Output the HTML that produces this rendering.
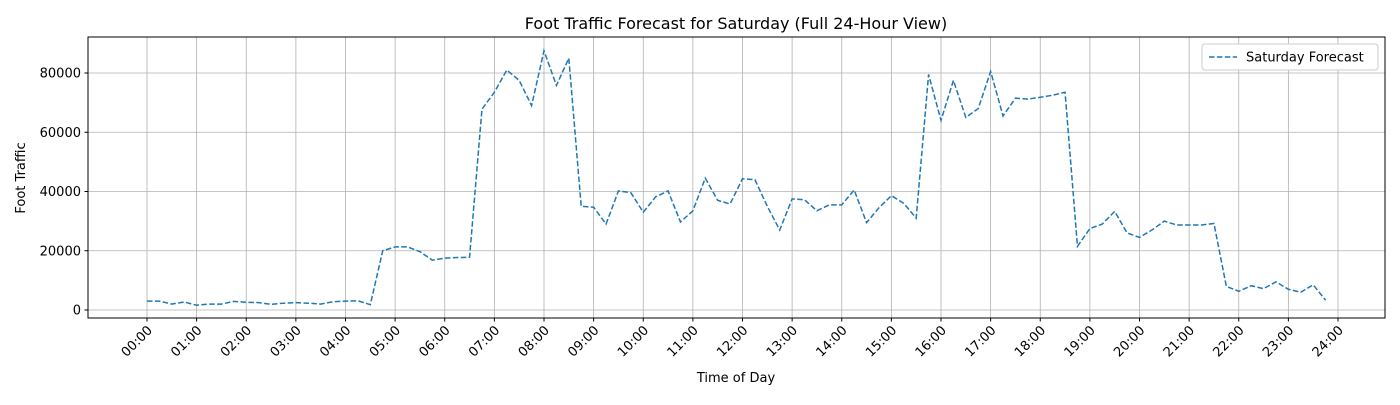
<!DOCTYPE html>
<html><head><meta charset="utf-8"><style>
body{margin:0;background:#fff;font-family:"Liberation Sans","DejaVu Sans",sans-serif}
svg text{font-family:"DejaVu Sans","Liberation Sans",sans-serif}
</style></head><body>
<svg id="chart" width="1400" height="400" xmlns="http://www.w3.org/2000/svg">
<rect width="1400" height="400" fill="#fff"/>
<g id="grid"></g>
<g id="ticks"></g>
<path id="line" fill="none" stroke="#1f77b4" stroke-width="1.5" stroke-dasharray="5.5,2.4"/>
<rect x="88" y="37" width="1297" height="281" fill="none" stroke="#000" stroke-width="1"/>
<text x="736" y="29" font-size="16" text-anchor="middle">Foot Traffic Forecast for Saturday (Full 24-Hour View)</text>
<text x="736" y="382" font-size="13" text-anchor="middle">Time of Day</text>
<text x="25" y="178" font-size="13" text-anchor="middle" transform="rotate(-90 25 178)">Foot Traffic</text>
<g>
<rect x="1202" y="44" width="176" height="26" rx="3" fill="#fff" stroke="#ccc"/>
<line x1="1209" y1="57" x2="1237" y2="57" stroke="#1f77b4" stroke-width="1.5" stroke-dasharray="5.5,2.4"/>
<text x="1246" y="61.5" font-size="13">Saturday Forecast</text>
</g>
</svg>
<script>
const values=[3000,3000,2000,2700,1600,2000,2000,2900,2600,2500,1900,2300,2500,2300,2000,2800,3000,3100,1800,20000,21300,21300,19700,16800,17500,17700,17800,67800,73500,81000,77500,69000,87500,75800,85000,35000,34700,29000,40200,39600,33000,38200,40200,29700,33500,44500,37000,35800,44300,44000,35000,27000,37500,37200,33500,35500,35500,40500,29500,34500,38600,36000,31000,79500,64000,77500,65000,68000,80500,65500,71500,71200,71800,72500,73500,21500,27500,29000,33300,26000,24500,27000,30000,28700,28700,28700,29200,8000,6300,8200,7200,9500,7000,6000,8500,3300];
const yTicks=[0,20000,40000,60000,80000];
const xTickHours=[0,1,2,3,4,5,6,7,8,9,10,11,12,13,14,15,16,17,18,19,20,21,22,23,24];
const ns="http://www.w3.org/2000/svg";
const X=h=>147+(1338-147)*h/24;
const Y=v=>310-v*(237/80000);
const grid=document.getElementById('grid'),ticks=document.getElementById('ticks');
function mk(tag,attrs,parent){const e=document.createElementNS(ns,tag);for(const k in attrs)e.setAttribute(k,attrs[k]);parent.appendChild(e);return e;}
yTicks.forEach(v=>{
  const g=mk('line',{x1:88,x2:1385,y1:Y(v),y2:Y(v),stroke:'#b0b0b0','stroke-width':0.8},grid);
  
  
  const t=mk('line',{x1:84.5,x2:88,y1:Y(v),y2:Y(v),stroke:'#000'},ticks);
  
  
  const l=mk('text',{x:81,y:Y(v)+4.5,'font-size':13,'text-anchor':'end'},ticks);
  
  
  l.textContent=v;
});
xTickHours.forEach(h=>{
  const x=X(h);
  const g=mk('line',{x1:x,x2:x,y1:37,y2:318,stroke:'#b0b0b0','stroke-width':0.8},grid);
  
  
  const t=mk('line',{x1:x,x2:x,y1:318,y2:321.5,stroke:'#000'},ticks);
  
  
  const lx=x+6,ly=331;
  const l=mk('text',{x:lx,y:ly,'font-size':13,'text-anchor':'end',transform:`rotate(-45 ${lx} ${ly})`},ticks);
  
  
  l.textContent=String(h).padStart(2,'0')+':00';
});
document.getElementById('line').setAttribute('d',values.map((v,i)=>(i?'L':'M')+X(i/4).toFixed(2)+' '+Y(v).toFixed(2)).join(' '));
</script>
</body></html>
